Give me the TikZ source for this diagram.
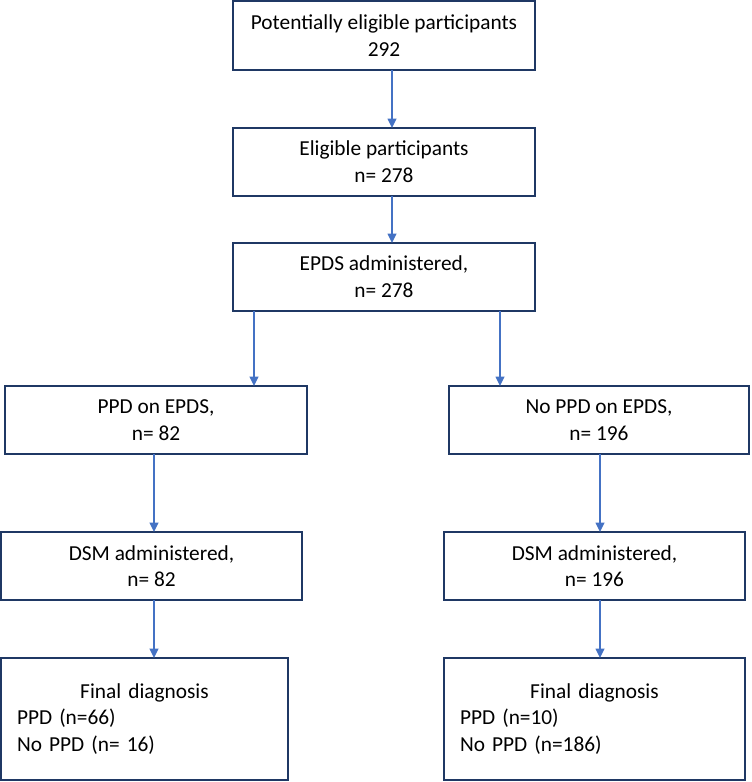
\documentclass[tikz,border=0pt]{standalone}
\usepackage{fontspec}
\setmainfont{Carlito}
\usetikzlibrary{arrows.meta}

\definecolor{boxnavy}{RGB}{31,56,100}
\definecolor{arrowblue}{RGB}{68,114,196}

\tikzset{every picture/.style={line width=0.75pt}}
\tikzset{
  flowbox/.style={draw=boxnavy, line width=1.5pt, fill=white, anchor=north west, outer sep=0pt,
    inner sep=2pt, align=center, font=\fontsize{16}{20}\selectfont},
  finalbox/.style={flowbox, align=left, inner xsep=12pt},
  flowarrow/.style={draw=arrowblue, line width=1.1pt, -{Triangle[length=7pt,width=6.5pt]}}
}

\begin{document}
\begin{tikzpicture}[x=0.75pt,y=0.75pt,yscale=-1,xscale=1]
\useasboundingbox (0,0) rectangle (751,782);

% Boxes
\node [flowbox, minimum width=226.5pt, minimum height=51.75pt] (potential) at (233,1) {Potentially eligible participants\\292};
\node [flowbox, minimum width=226.5pt, minimum height=51pt] (eligible) at (233,128) {Eligible participants\\n= 278};
\node [flowbox, minimum width=226.5pt, minimum height=51pt] (epds) at (233,243) {EPDS administered,\\n= 278};
\node [flowbox, minimum width=226.5pt, minimum height=51pt] (ppdpos) at (5,386) {PPD on EPDS,\\n= 82};
\node [flowbox, minimum width=225pt, minimum height=51pt] (ppdneg) at (449,386) {No PPD on EPDS,\\n= 196};
\node [flowbox, minimum width=225.75pt, minimum height=51pt] (dsmpos) at (1,532) {DSM administered,\\n= 82};
\node [flowbox, minimum width=225.75pt, minimum height=51pt] (dsmneg) at (444,532) {DSM administered,\\n= 196};
\node [finalbox, text width=191.25pt, minimum height=91.5pt] (finalpos) at (1,658) {\hfill Final diagnosis\hfill\mbox{}\\PPD (n=66)\\No PPD (n= 16)};
\node [finalbox, text width=201.75pt, minimum height=91.5pt] (finalneg) at (444,658) {\hfill Final diagnosis\hfill\mbox{}\\PPD (n=10)\\No PPD (n=186)};

% Arrow columns
\coordinate (colmain) at (392,0);
\coordinate (colleft) at (254,0);
\coordinate (colright) at (500,0);
\coordinate (colpos) at (154,0);
\coordinate (colneg) at (600,0);

% Arrows
\draw [flowarrow] (potential.south -| colmain) -- (eligible.north -| colmain);
\draw [flowarrow] (eligible.south -| colmain) -- (epds.north -| colmain);
\draw [flowarrow] (epds.south -| colleft) -- (ppdpos.north -| colleft);
\draw [flowarrow] (epds.south -| colright) -- (ppdneg.north -| colright);
\draw [flowarrow] (ppdpos.south -| colpos) -- (dsmpos.north -| colpos);
\draw [flowarrow] (ppdneg.south -| colneg) -- (dsmneg.north -| colneg);
\draw [flowarrow] (dsmpos.south -| colpos) -- (finalpos.north -| colpos);
\draw [flowarrow] (dsmneg.south -| colneg) -- (finalneg.north -| colneg);

\end{tikzpicture}
\end{document}
